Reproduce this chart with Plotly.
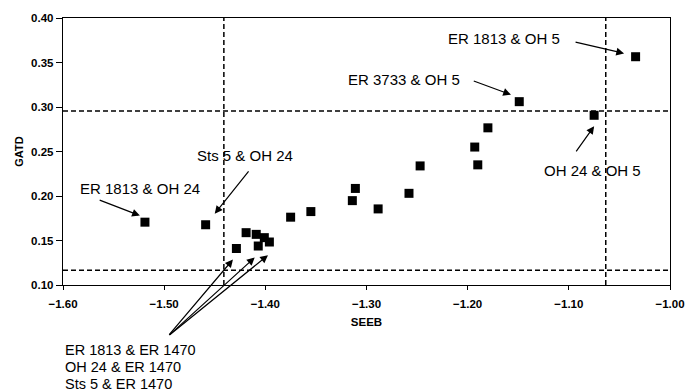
import plotly.graph_objects as go

# Data
seeb = [-1.034, -1.149, -1.075, -1.180, -1.193, -1.190, -1.247, -1.311, -1.314,
        -1.258, -1.2885, -1.519, -1.459, -1.4286, -1.419, -1.409, -1.401, -1.396,
        -1.407, -1.375, -1.355]
gatd = [0.3565, 0.306, 0.2907, 0.2766, 0.255, 0.235, 0.2338, 0.2085, 0.1948,
        0.203, 0.1855, 0.1706, 0.1677, 0.141, 0.1588, 0.1569, 0.1532, 0.1483,
        0.1438, 0.1762, 0.1825]

# threshold (dashed) lines
x_thresholds = [-1.441, -1.0635]
y_thresholds = [0.2955, 0.1167]

x_ticks = [-1.6, -1.5, -1.4, -1.3, -1.2, -1.1, -1.0]
y_ticks = [0.10, 0.15, 0.20, 0.25, 0.30, 0.35, 0.40]

# labels: text, text centre (x, y)
labels = [
    ("ER 1813 &amp; OH 5", -1.1638, 0.3769),
    ("ER 3733 &amp; OH 5", -1.2625, 0.3309),
    ("OH 24 &amp; OH 5", -1.0767, 0.229),
    ("Sts 5 &amp; OH 24", -1.4204, 0.245),
    ("ER 1813 &amp; OH 24", -1.5243, 0.2085),
]
bottom_labels = ["ER 1813 &amp; ER 1470", "OH 24 &amp; ER 1470", "Sts 5 &amp; ER 1470"]
bottom_label_y = [-0.2416, -0.3086, -0.3717]  # paper coords

# arrows: head (x, y) and tail offset in pixels
arrows = [
    (-1.0454, 0.3602, -50, -11.7),
    (-1.1572, 0.3138, -38.7, -14.3),
    (-1.075, 0.2784, -19, 26.7),
    (-1.45, 0.180, 35, -44),
    (-1.524, 0.178, -41.7, -16),
    (-1.432, 0.1287, -65, 76.7),
    (-1.4105, 0.1309, -86.7, 78.7),
    (-1.3974, 0.1335, -100, 81),
]

FONT = "Liberation Sans, Arial, sans-serif"

fig = go.Figure()
fig.add_trace(go.Scatter(
    x=seeb, y=gatd, mode="markers",
    marker=dict(symbol="square", size=9, color="black"),
    showlegend=False, cliponaxis=False,
))

shapes = []
for xv in x_thresholds:
    shapes.append(dict(type="line", xref="x", yref="paper", x0=xv, x1=xv, y0=0, y1=1,
                       line=dict(color="black", width=1.5, dash="5px,3px")))
for yv in y_thresholds:
    shapes.append(dict(type="line", xref="paper", yref="y", x0=0, x1=1, y0=yv, y1=yv,
                       line=dict(color="black", width=1.5, dash="5px,3px")))

annotations = []
for txt, lx, ly in labels:
    annotations.append(dict(x=lx, y=ly, xref="x", yref="y", text=txt, showarrow=False,
                            xanchor="center", yanchor="middle",
                            font=dict(family=FONT, size=15, color="black")))
for txt, by in zip(bottom_labels, bottom_label_y):
    annotations.append(dict(x=0, y=by, xref="paper", yref="paper", text=txt,
                            showarrow=False, xanchor="left", yanchor="middle", align="left",
                            font=dict(family=FONT, size=14.5, color="black")))
for hx, hy, ax, ay in arrows:
    annotations.append(dict(x=hx, y=hy, xref="x", yref="y", ax=ax, ay=ay,
                            text="", showarrow=True, arrowhead=2, arrowsize=1.3,
                            arrowwidth=1.2, arrowcolor="black", standoff=0,
                            startstandoff=0))

fig.update_layout(
    width=697, height=392,
    margin=dict(l=63, r=26, t=16, b=107),
    paper_bgcolor="white", plot_bgcolor="white",
    shapes=shapes, annotations=annotations,
    font=dict(family=FONT, color="black"),
    xaxis=dict(
        range=[-1.6, -1.0], tickvals=x_ticks, tickformat=".2f",
        showgrid=False, zeroline=False, showline=True, linecolor="black", linewidth=1.4,
        mirror=True, ticks="outside", ticklen=4, tickcolor="black",
        ticklabelstandoff=4,
        tickfont=dict(family=FONT, size=11.5, weight="bold"),
        title=dict(text="SEEB", font=dict(family=FONT, size=11.5, weight="bold"), standoff=8),
    ),
    yaxis=dict(
        range=[0.10, 0.40], tickvals=y_ticks, tickformat=".2f",
        showgrid=False, zeroline=False, showline=True, linecolor="black", linewidth=1.4,
        mirror=True, ticks="outside", ticklen=6, tickcolor="black",
        tickfont=dict(family=FONT, size=11.5, weight="bold"),
        title=dict(text="GATD", font=dict(family=FONT, size=11, weight="bold"), standoff=5),
    ),
)

fig.write_html("out.html")
